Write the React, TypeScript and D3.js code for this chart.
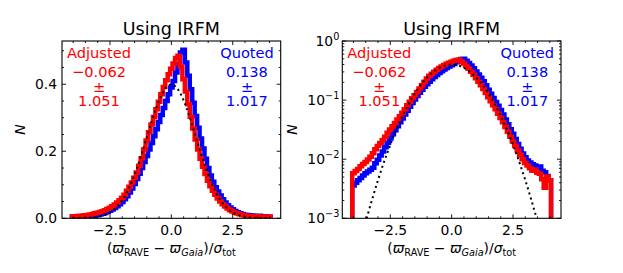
import React from "react";
import * as d3 from "d3";

// ---- data ----
const BIN_START = -4.05;
const BIN_WIDTH = 0.1;
// Adjusted (red) normalised histogram, bins centred at -4.0 ... 4.0
const adjusted = [
  0.0058, 0.0063, 0.0068, 0.0076, 0.0083, 0.0090, 0.0099, 0.0110, 0.0126, 0.0148,
  0.0168, 0.0188, 0.0212, 0.0240, 0.0280, 0.0318, 0.0360, 0.0410, 0.0468, 0.0535,
  0.0610, 0.0700, 0.0820, 0.0940, 0.1070, 0.1210, 0.1370, 0.1570, 0.1790, 0.2050,
  0.2320, 0.2570, 0.2800, 0.3020, 0.3250, 0.3480, 0.3700, 0.3920, 0.4120, 0.4300,
  0.4460, 0.4620, 0.4780, 0.4850, 0.4520, 0.4150, 0.3780, 0.3400, 0.3030, 0.2680,
  0.2350, 0.2050, 0.1780, 0.1540, 0.1320, 0.1120, 0.0960, 0.0820, 0.0700, 0.0590,
  0.0500, 0.0420, 0.0350, 0.0290, 0.0240, 0.0200, 0.0168, 0.0140, 0.0118, 0.0100,
  0.0086, 0.0078, 0.0070, 0.0064, 0.0067, 0.0059, 0.0057, 0.0046, 0.0033, 0.0051,
  0.0044,
];
// Quoted (blue) normalised histogram
const quoted = [
  0.0036, 0.0040, 0.0044, 0.0048, 0.0053, 0.0058, 0.0062, 0.0066, 0.0072, 0.0085,
  0.0098, 0.0115, 0.0135, 0.0160, 0.0190, 0.0225, 0.0265, 0.0310, 0.0360, 0.0420,
  0.0490, 0.0570, 0.0660, 0.0770, 0.0890, 0.1020, 0.1170, 0.1330, 0.1500, 0.1680,
  0.1860, 0.2050, 0.2250, 0.2450, 0.2660, 0.2870, 0.3080, 0.3290, 0.3500, 0.3700,
  0.3900, 0.4100, 0.4350, 0.4600, 0.4950, 0.5030, 0.4650, 0.4250, 0.3850, 0.3450,
  0.3050, 0.2700, 0.2380, 0.2080, 0.1780, 0.1500, 0.1280, 0.1090, 0.0930, 0.0800,
  0.0680, 0.0570, 0.0470, 0.0390, 0.0320, 0.0270, 0.0220, 0.0180, 0.0150, 0.0125,
  0.0108, 0.0095, 0.0088, 0.0082, 0.0078, 0.0072, 0.0075, 0.0064, 0.0060, 0.0052,
  0.0044,
];
// Unit Gaussian reference (dotted)
const gaussX = [
  -4.0, -3.8, -3.6, -3.4, -3.2, -3.0, -2.8, -2.6, -2.4, -2.2, -2.0, -1.8, -1.6, -1.4,
  -1.2, -1.0, -0.8, -0.6, -0.4, -0.2, 0.0, 0.2, 0.4, 0.6, 0.8, 1.0, 1.2, 1.4, 1.6,
  1.8, 2.0, 2.2, 2.4, 2.6, 2.8, 3.0, 3.2, 3.4, 3.6, 3.8, 4.0,
];
const gaussY = [
  0.000134, 0.000292, 0.000612, 0.00123, 0.00238, 0.00443, 0.00792, 0.01358, 0.02239,
  0.03547, 0.05399, 0.07895, 0.11092, 0.14973, 0.19419, 0.24197, 0.28969, 0.33322,
  0.36827, 0.39104, 0.39894, 0.39104, 0.36827, 0.33322, 0.28969, 0.24197, 0.19419,
  0.14973, 0.11092, 0.07895, 0.05399, 0.03547, 0.02239, 0.01358, 0.00792, 0.00443,
  0.00238, 0.00123, 0.000612, 0.000292, 0.000134,
];
const xTicks = [-2.5, 0, 2.5];
const xTickLabels = ["\u22122.5", "0.0", "2.5"];
const linTicks = [0, 0.2, 0.4];
const linTickLabels = ["0.0", "0.2", "0.4"];
const logTicks = [1e-3, 1e-2, 1e-1, 1];
const logTickExps = ["\u22123", "\u22122", "\u22121", "0"];
const titleText = "Using IRFM";
const adjLines = ["Adjusted", "\u22120.062", "\u00b1", "1.051"];
const quoLines = ["Quoted", "0.138", "\u00b1", "1.017"];

// ---- layout ----
const W = 623;
const H = 273;
const TOP = 41;
const BOT = 218.3;
const PW = 218.7;
const PANELS = [
  { x0: 62, log: false },
  { x0: 342.3, log: true },
];
const FONT = "DejaVu Sans, sans-serif";
const RED = "#ff0000";
const BLUE = "#0000ff";
const LINE_DY = [0, 18.2, 15, 14.5];

function stepPoints(vals: number[], floor: number): [number, number][] {
  const pts: [number, number][] = [];
  pts.push([BIN_START, floor]);
  vals.forEach((v, i) => {
    const a = BIN_START + i * BIN_WIDTH;
    const b = a + BIN_WIDTH;
    pts.push([a, Math.max(v, floor)]);
    pts.push([b, Math.max(v, floor)]);
  });
  pts.push([BIN_START + vals.length * BIN_WIDTH, floor]);
  return pts;
}

function Panel({ x0, log, idx }: { x0: number; log: boolean; idx: number }) {
  const x1 = x0 + PW;
  const x = d3.scaleLinear().domain([-4.455, 4.455]).range([x0, x1]);
  const y: any = log
    ? d3.scaleLog().domain([1e-3, 1]).range([BOT, TOP])
    : d3.scaleLinear().domain([0, 0.529]).range([BOT, TOP]);
  const floor = log ? 1e-5 : 0;
  const line = d3
    .line<[number, number]>()
    .x((d) => x(d[0]))
    .y((d) => y(d[1]));
  const gLine = d3
    .line<number>()
    .x((_, i) => x(gaussX[i]))
    .y((d) => y(Math.max(d, 1e-6)))
    .curve(d3.curveMonotoneX);
  const clipId = `clip${idx}`;
  const cx = x0 + PW / 2;

  const xMinor = d3.range(-4, 4.01, 0.5).filter((v) => Math.abs(v % 2.5) > 1e-6);
  const yMinor: number[] = log
    ? d3.range(-3, 0).flatMap((e) => d3.range(2, 10).map((k) => k * Math.pow(10, e)))
    : d3.range(0.05, 0.53, 0.05).filter((v) => Math.abs(v / 0.2 - Math.round(v / 0.2)) > 1e-6);
  const yMajor = log ? logTicks : linTicks;
  const MAJ = 4;
  const MIN = 2;

  return (
    <g>
      <defs>
        <clipPath id={clipId}>
          <rect x={x0} y={TOP} width={PW} height={BOT - TOP} />
        </clipPath>
      </defs>
      <g clipPath={`url(#${clipId})`}>
        <path d={line(stepPoints(quoted, floor)) || ""} fill="none" stroke={BLUE} strokeWidth={4.5} strokeLinejoin="miter" />
        <path d={line(stepPoints(adjusted, floor)) || ""} fill="none" stroke={RED} strokeWidth={4.5} strokeLinejoin="miter" />
        <path d={gLine(gaussY) || ""} fill="none" stroke="#000" strokeWidth={2} strokeDasharray="2,3.3" />
      </g>
      {/* ticks */}
      <g stroke="#000" strokeWidth={0.9}>
        {xTicks.map((t) => (
          <g key={`xM${t}`}>
            <line x1={x(t)} x2={x(t)} y1={BOT} y2={BOT - MAJ} />
            <line x1={x(t)} x2={x(t)} y1={TOP} y2={TOP + MAJ} />
          </g>
        ))}
        {xMinor.map((t) => (
          <g key={`xm${t}`}>
            <line x1={x(t)} x2={x(t)} y1={BOT} y2={BOT - MIN} />
            <line x1={x(t)} x2={x(t)} y1={TOP} y2={TOP + MIN} />
          </g>
        ))}
        {yMajor.map((t) => (
          <g key={`yM${t}`}>
            <line x1={x0} x2={x0 + MAJ} y1={y(t)} y2={y(t)} />
            <line x1={x1} x2={x1 - MAJ} y1={y(t)} y2={y(t)} />
          </g>
        ))}
        {yMinor.map((t) => (
          <g key={`ym${t}`}>
            <line x1={x0} x2={x0 + MIN} y1={y(t)} y2={y(t)} />
            <line x1={x1} x2={x1 - MIN} y1={y(t)} y2={y(t)} />
          </g>
        ))}
      </g>
      <rect x={x0} y={TOP} width={PW} height={BOT - TOP} fill="none" stroke="#000" strokeWidth={1.1} />
      {/* tick labels */}
      <g fontFamily={FONT} fontSize={13.9} fill="#000">
        {xTicks.map((t, i) => (
          <text key={`xl${t}`} x={x(t)} y={235} textAnchor="middle">
            {xTickLabels[i]}
          </text>
        ))}
        {!log &&
          linTicks.map((t, i) => (
            <text key={`yl${t}`} x={x0 - 5} y={y(t) + 5} textAnchor="end">
              {linTickLabels[i]}
            </text>
          ))}
        {log &&
          logTicks.map((t, i) => (
            <text key={`yl${t}`} x={x0 - 3} y={y(t) + 5} textAnchor="end">
              10<tspan fontSize={9.7} dy={-6}>{logTickExps[i]}</tspan>
            </text>
          ))}
      </g>
      {/* axis labels */}
      <text
        transform={`translate(${log ? 297 : 25},${(TOP + BOT) / 2}) rotate(-90)`}
        textAnchor="middle"
        fontFamily={FONT}
        fontSize={13.9}
        fontStyle="italic"
      >
        N
      </text>
      <text x={cx} y={253} textAnchor="middle" fontFamily={FONT} fontSize={13.9}>
        <tspan>(</tspan>
        <tspan fontStyle="italic">ϖ</tspan>
        <tspan fontSize={9.7} dy={2.8}>RAVE</tspan>
        <tspan dy={-2.8}>{" \u2212 "}</tspan>
        <tspan fontStyle="italic">ϖ</tspan>
        <tspan fontStyle="italic" fontSize={9.7} dy={2.8}>Gaia</tspan>
        <tspan dy={-2.8}>)/</tspan>
        <tspan fontStyle="italic">σ</tspan>
        <tspan fontSize={9.7} dy={2.8}>tot</tspan>
      </text>
      <text x={cx} y={34.5} textAnchor="middle" fontFamily={FONT} fontSize={17.5}>
        {titleText}
      </text>
      {/* annotations */}
      <g fontFamily={FONT} fontSize={14.6} textAnchor="middle">
        <text x={x0 + 37} y={58.3} fill={RED}>
          {adjLines.map((s, i) => (
            <tspan key={`a${i}`} x={x0 + 37} dy={LINE_DY[i]}>
              {s}
            </tspan>
          ))}
        </text>
        <text x={x0 + 185} y={58.3} fill={BLUE}>
          {quoLines.map((s, i) => (
            <tspan key={`q${i}`} x={x0 + 185} dy={LINE_DY[i]}>
              {s}
            </tspan>
          ))}
        </text>
      </g>
    </g>
  );
}

export default function App() {
  return (
    <svg
      width={W}
      height={H}
      style={{ position: "absolute", left: 0, top: 0, background: "#fff" }}
    >
      <rect width={W} height={H} fill="#fff" />
      {PANELS.map((p, i) => (
        <Panel key={i} x0={p.x0} log={p.log} idx={i} />
      ))}
    </svg>
  );
}
